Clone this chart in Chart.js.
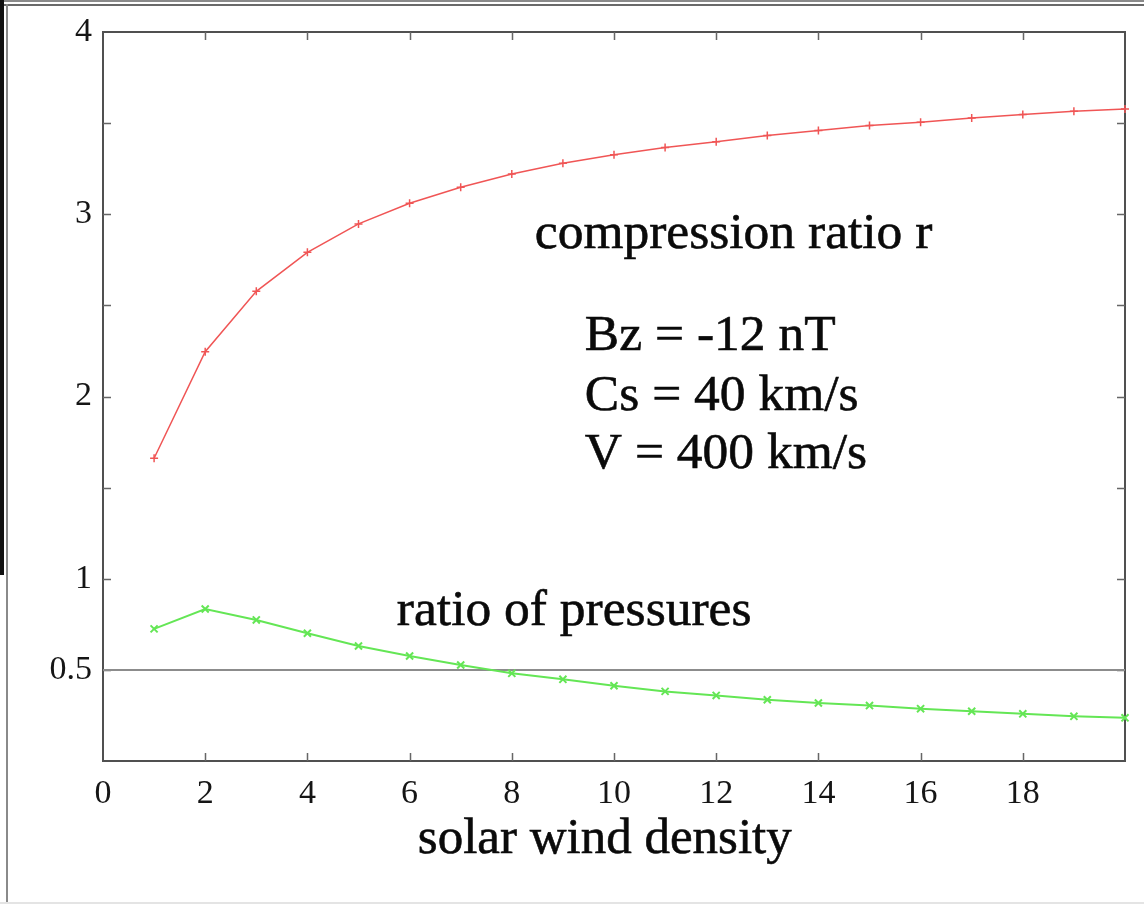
<!DOCTYPE html>
<html>
<head>
<meta charset="utf-8">
<script src="https://cdn.jsdelivr.net/npm/chart.js@4/dist/chart.umd.min.js"></script>
<style>
  html, body { margin: 0; padding: 0; background: #fff; overflow: hidden; }
  #wrap { width: 1144px; height: 904px; position: relative; }
</style>
</head>
<body>
<div id="wrap"><canvas id="chart" width="1144" height="904"></canvas></div>
<script>
// Solar wind density (x) for each computed case
const density = [1, 2, 3, 4, 5, 6, 7, 8, 9, 10, 11, 12, 13, 14, 15, 16, 17, 18, 19, 20];
// Shock compression ratio r
const compressionRatio = [1.661, 2.246, 2.577, 2.791, 2.947, 3.060, 3.148, 3.221, 3.280, 3.327,
                          3.366, 3.398, 3.432, 3.459, 3.487, 3.505, 3.528, 3.548, 3.565, 3.578];
// Ratio of pressures
const pressureRatio = [0.725, 0.834, 0.774, 0.701, 0.631, 0.576, 0.527, 0.481, 0.448, 0.413,
                       0.382, 0.360, 0.336, 0.318, 0.304, 0.287, 0.273, 0.259, 0.245, 0.237];
// Reference level drawn across the plot
const referenceLevel = 0.5;

// Axis tick labels and tick marks
const xTickLabels = [0, 2, 4, 6, 8, 10, 12, 14, 16, 18];
const xTickMarks = [2, 4, 6, 8, 10, 12, 14, 16, 18];
const yTickLabels = [0.5, 1, 2, 3, 4];
const yTickMarks = [0.5, 1, 1.5, 2, 2.5, 3, 3.5];

// Text written on the figure
const xAxisTitle = 'solar wind density';
const curveLabels = ['compression ratio r', 'ratio of pressures'];
const parameterLines = ['Bz = -12 nT', 'Cs = 40 km/s', 'V = 400 km/s'];

const SERIF = "'Liberation Serif', 'DejaVu Serif', serif";

const toPoints = (ys) => density.map((x, i) => ({ x, y: ys[i] }));

// Page frame, plot box, inward tick marks and figure text
const plotDecor = {
  id: 'plotDecor',
  beforeDraw(chart) {
    const ctx = chart.ctx;
    ctx.save();
    ctx.fillStyle = '#fff';
    ctx.fillRect(0, 0, chart.width, chart.height);
    // outer frame
    ctx.fillStyle = '#8a8a8a';
    ctx.fillRect(0, 0, chart.width, 2);
    ctx.fillStyle = '#6a6a6a';
    ctx.fillRect(0, 4, chart.width, 2);
    ctx.fillStyle = '#111';
    ctx.fillRect(0, 0, 4, 575);
    ctx.fillStyle = '#8a8a8a';
    ctx.fillRect(6, 4, 2, chart.height - 4);
    ctx.fillStyle = '#e4e4e4';
    ctx.fillRect(0, chart.height - 2, chart.width, 2);
    ctx.restore();
  },
  beforeDatasetsDraw(chart) {
    const { ctx, chartArea: a, scales: { x, y } } = chart;
    ctx.save();
    ctx.strokeStyle = '#505050';
    ctx.lineWidth = 2;
    ctx.strokeRect(a.left, a.top, a.right - a.left, a.bottom - a.top);
    ctx.lineWidth = 1.5;
    ctx.strokeStyle = '#666';
    const tl = 8;
    ctx.beginPath();
    xTickMarks.forEach(v => {
      const px = Math.round(x.getPixelForValue(v)) + 0.5;
      ctx.moveTo(px, a.bottom); ctx.lineTo(px, a.bottom - tl);
      ctx.moveTo(px, a.top); ctx.lineTo(px, a.top + tl);
    });
    yTickMarks.forEach(v => {
      const py = Math.round(y.getPixelForValue(v)) + 0.5;
      ctx.moveTo(a.left, py); ctx.lineTo(a.left + tl, py);
      ctx.moveTo(a.right, py); ctx.lineTo(a.right - tl, py);
    });
    ctx.stroke();
    ctx.restore();
  },
  afterDraw(chart) {
    const { ctx, chartArea: a, scales: { x, y } } = chart;
    ctx.save();
    ctx.fillStyle = '#0a0a0a';
    ctx.strokeStyle = '#0a0a0a';
    ctx.lineWidth = 0.6;
    ctx.textBaseline = 'alphabetic';
    const write = (t, px, py) => { ctx.fillText(t, px, py); ctx.strokeText(t, px, py); };

    ctx.font = '51.5px ' + SERIF;
    ctx.textAlign = 'left';
    write(curveLabels[0], x.getPixelForValue(8.45), y.getPixelForValue(2.815));
    write(curveLabels[1], x.getPixelForValue(5.75), y.getPixelForValue(0.746));
    const lineYs = [2.255, 1.926, 1.608];
    parameterLines.forEach((t, i) => {
      write(t, x.getPixelForValue(9.43), y.getPixelForValue(lineYs[i]));
    });

    // x-axis title below the tick labels
    ctx.font = '51px ' + SERIF;
    ctx.textAlign = 'center';
    write(xAxisTitle, x.getPixelForValue(9.82), a.bottom + 92);
    ctx.restore();
  }
};

new Chart(document.getElementById('chart'), {
  type: 'line',
  data: {
    datasets: [
      {
        label: 'compression ratio r',
        data: toPoints(compressionRatio),
        borderColor: 'rgb(240, 85, 85)',
        backgroundColor: 'rgb(240, 85, 85)',
        borderWidth: 1.5,
        pointStyle: 'cross',
        pointRadius: 4,
        pointBorderWidth: 1.5,
        fill: false,
        tension: 0,
        clip: false
      },
      {
        label: 'ratio of pressures',
        data: toPoints(pressureRatio),
        borderColor: 'rgb(100, 230, 85)',
        backgroundColor: 'rgb(100, 230, 85)',
        borderWidth: 2,
        pointStyle: 'crossRot',
        pointRadius: 5,
        pointBorderWidth: 2,
        fill: false,
        tension: 0,
        clip: false
      },
      {
        label: 'reference',
        data: [{ x: 0, y: referenceLevel }, { x: 20, y: referenceLevel }],
        borderColor: '#8c8c8c',
        borderWidth: 2,
        pointRadius: 0,
        fill: false
      }
    ]
  },
  options: {
    responsive: false,
    animation: false,
    devicePixelRatio: 1,
    layout: { padding: { left: 0, right: 19, top: 32, bottom: 0 } },
    plugins: { legend: { display: false }, tooltip: { enabled: false } },
    scales: {
      x: {
        type: 'linear',
        min: 0,
        max: 20,
        afterBuildTicks: (s) => { s.ticks = xTickLabels.map(v => ({ value: v })); },
        afterFit: (s) => { s.height = 143; },
        grid: { display: false, drawTicks: false },
        border: { display: false },
        ticks: {
          autoSkip: false,
          maxRotation: 0,
          padding: 13,
          color: '#151515',
          font: { family: SERIF, size: 34 }
        }
      },
      y: {
        type: 'linear',
        min: 0,
        max: 4,
        afterBuildTicks: (s) => { s.ticks = yTickLabels.map(v => ({ value: v })); },
        afterFit: (s) => { s.width = 103; },
        grid: { display: false, drawTicks: false },
        border: { display: false },
        ticks: {
          autoSkip: false,
          padding: 11,
          color: '#151515',
          font: { family: SERIF, size: 34 }
        }
      }
    }
  },
  plugins: [plotDecor]
});
</script>
</body>
</html>
